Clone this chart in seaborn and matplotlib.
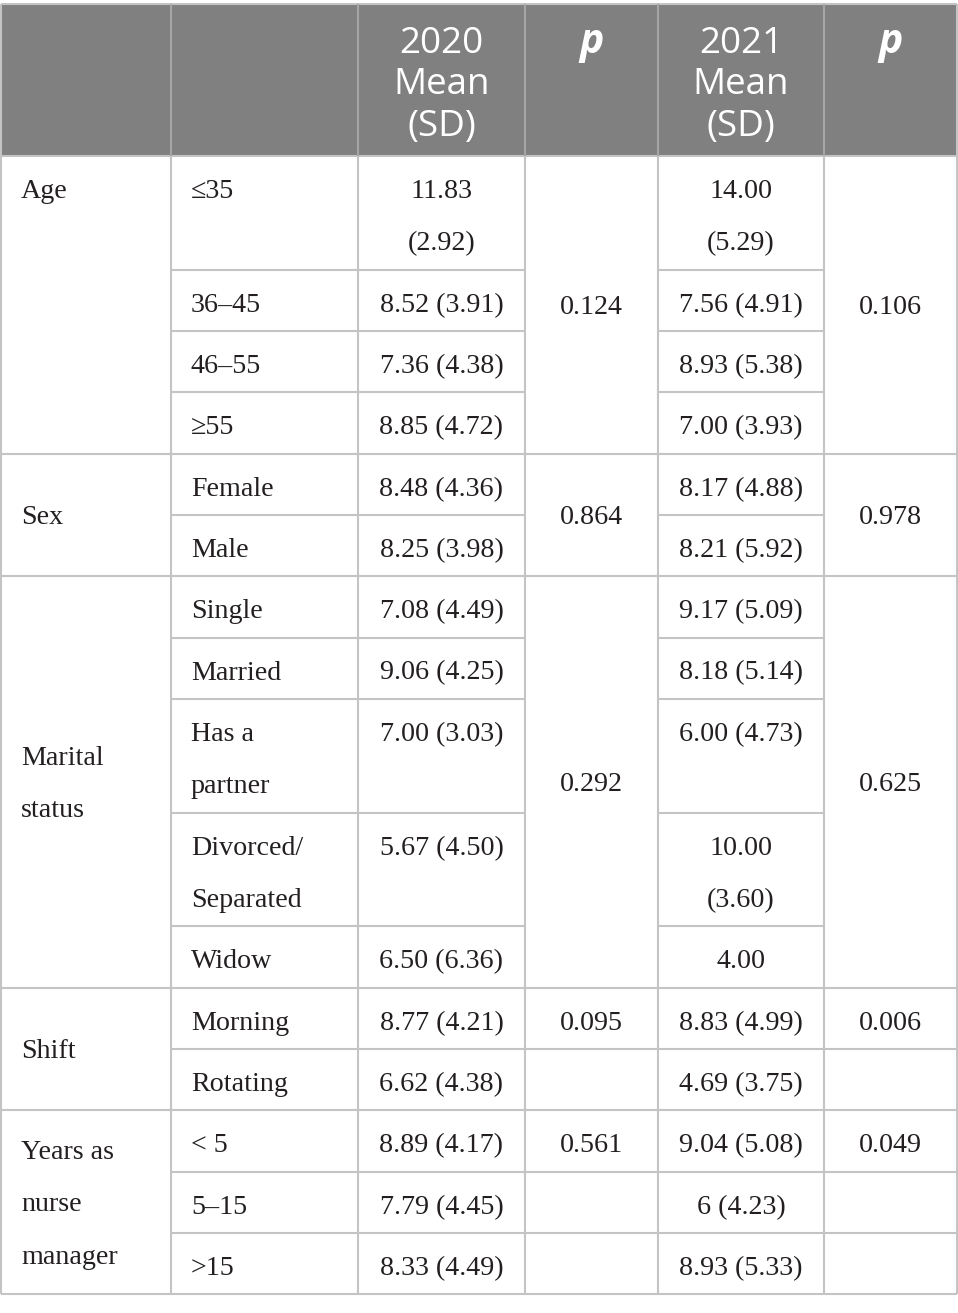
import pandas as pd
import seaborn as sns
import matplotlib.pyplot as plt
from matplotlib.patches import Rectangle

# ---------------------------------------------------------------- data
groups = ["Age", "Sex", "Marital\nstatus", "Shift", "Years as\nnurse\nmanager"]
group_valign = ["top", "center", "center", "center", "center"]
levels = [["≤35", "36–45", "46–55", "≥55"],
          ["Female", "Male"],
          ["Single", "Married", "Has a\npartner", "Divorced/\nSeparated", "Widow"],
          ["Morning", "Rotating"],
          ["< 5", "5–15", ">15"]]
mean_2020 = [["11.83\n(2.92)", "8.52 (3.91)", "7.36 (4.38)", "8.85 (4.72)"],
             ["8.48 (4.36)", "8.25 (3.98)"],
             ["7.08 (4.49)", "9.06 (4.25)", "7.00 (3.03)", "5.67 (4.50)", "6.50 (6.36)"],
             ["8.77 (4.21)", "6.62 (4.38)"],
             ["8.89 (4.17)", "7.79 (4.45)", "8.33 (4.49)"]]
mean_2021 = [["14.00\n(5.29)", "7.56 (4.91)", "8.93 (5.38)", "7.00 (3.93)"],
             ["8.17 (4.88)", "8.21 (5.92)"],
             ["9.17 (5.09)", "8.18 (5.14)", "6.00 (4.73)", "10.00\n(3.60)", "4.00"],
             ["8.83 (4.99)", "4.69 (3.75)"],
             ["9.04 (5.08)", "6 (4.23)", "8.93 (5.33)"]]
p_2020 = ["0.124", "0.864", "0.292", "0.095", "0.561"]
p_2021 = ["0.106", "0.978", "0.625", "0.006", "0.049"]
p_merged = [True, True, True, False, False]
header = ["", "", "2020\nMean\n(SD)", "p", "2021\nMean\n(SD)", "p"]

rows = []
for g, lv in enumerate(levels):
    for i, name in enumerate(lv):
        m20 = mean_2020[g][i]
        m21 = mean_2021[g][i]
        n = max(s.count("\n") + 1 for s in (name, m20, m21))
        rows.append(dict(group=g, first=(i == 0), level=name, m20=m20, m21=m21, nlines=n))
df = pd.DataFrame(rows)

# ---------------------------------------------------------------- layout
col_edges = [1, 171, 358, 525, 658, 824, 957]
top = 4
head_h = 152
line_h = 52.5
pad = 8.8
df["height"] = pad + line_h * df["nlines"]
df["top"] = top + head_h + df["height"].cumsum() - df["height"]
df["bottom"] = df["top"] + df["height"]
bottom = df["bottom"].iloc[-1]

header_bg = "#808080"
grid_col = "#c4c4c4"
text_col = "#231f20"
serif = ["Liberation Serif", "DejaVu Serif"]
sans = ["Open Sans", "DejaVu Sans"]
body_fs = 20.2
head_fs = 26.5

sns.set_theme(style="white")
fig = plt.figure(figsize=(9.58, 13.13), dpi=100)
ax = fig.add_axes([0, 0, 1, 1])
ax.set_xlim(0, 958)
ax.set_ylim(1313, 0)
ax.axis("off")


def center(c):
    return (col_edges[c] + col_edges[c + 1]) / 2


def put(x, base, s, ha, **kw):
    for k, line in enumerate(s.split("\n")):
        ax.text(x, base + k * line_h, line, ha=ha, va="baseline",
                family=serif, fontsize=body_fs, color=text_col, **kw)


# header
ax.add_patch(Rectangle((col_edges[0], top), col_edges[-1] - col_edges[0], head_h,
                       facecolor=header_bg, edgecolor="none", zorder=0))
for c, h in enumerate(header):
    if not h:
        continue
    if h == "p":
        ax.text(center(c), top + 49, h, ha="center", va="baseline", family=sans,
                fontsize=head_fs + 3, fontweight="bold", fontstyle="italic", color="white")
    else:
        for k, line in enumerate(h.split("\n")):
            ax.text(center(c), top + 49 + k * 41.5, line, ha="center", va="baseline",
                    family=sans, fontsize=head_fs, color="white")

# body text
for _, r in df.iterrows():
    base = r["top"] + 42
    put(col_edges[1] + 20, base, r["level"], "left")
    put(center(2), base, r["m20"], "center")
    put(center(4), base, r["m21"], "center")

for g, name in enumerate(groups):
    sub = df[df["group"] == g]
    g_top, g_bot = sub["top"].iloc[0], sub["bottom"].iloc[-1]
    n = name.count("\n") + 1
    if group_valign[g] == "top":
        put(col_edges[0] + 20, g_top + 42, name, "left")
    else:
        mid = (g_top + g_bot) / 2
        put(col_edges[0] + 20, mid + 9 - (n - 1) / 2 * line_h, name, "left")
    if p_merged[g]:
        base = (g_top + g_bot) / 2 + 9
    else:
        base = g_top + 42
    put(center(3), base, p_2020[g], "center")
    put(center(5), base, p_2021[g], "center")

# grid lines
lw = 1.5
for _, r in df.iterrows():
    y = r["top"]
    g = r["group"]
    if r["first"]:
        ax.hlines(y, col_edges[0], col_edges[-1], color=grid_col, lw=lw)
    else:
        spans = [(1, 3), (4, 5)] if p_merged[g] else [(1, 6)]
        for a, b in spans:
            ax.hlines(y, col_edges[a], col_edges[b], color=grid_col, lw=lw)
ax.hlines([top, bottom], col_edges[0], col_edges[-1], color=grid_col, lw=lw)
ax.vlines(col_edges[1:-1], top + head_h, bottom, color=grid_col, lw=lw)
ax.vlines(col_edges[1:-1], top, top + head_h, color="#a6a6a6", lw=lw)
ax.vlines([col_edges[0], col_edges[-1]], top, bottom, color=grid_col, lw=lw)

fig.savefig("out.png", dpi=100, facecolor="white")
